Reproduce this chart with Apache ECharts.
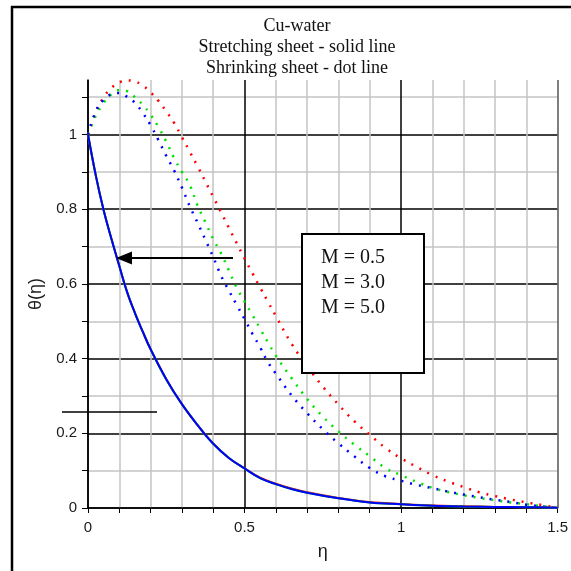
<!DOCTYPE html>
<html>
<head>
<meta charset="utf-8">
<script src="https://cdn.jsdelivr.net/npm/echarts@6/dist/echarts.min.js"></script>
<style>html,body{margin:0;padding:0;background:#fff}#c{width:571px;height:571px}</style>
</head>
<body>
<div id="c"></div>
<script>
// ---- data ----
var titleLines = ['Cu-water', 'Stretching sheet - solid line', 'Shrinking sheet - dot line'];
var legendLines = ['M = 0.5', 'M = 3.0', 'M = 5.0'];
var xLabelValues = [0, 0.5, 1, 1.5];
var yLabelValues = [0, 0.2, 0.4, 0.6, 0.8, 1.0];
var yTickValues = [0, 0.1, 0.2, 0.3, 0.4, 0.5, 0.6, 0.7, 0.8, 0.9, 1.0, 1.1];

// Stretching sheet (solid), eta -> theta
var etaSolid = [0, 0.025, 0.05, 0.075, 0.1, 0.125, 0.15, 0.175, 0.2, 0.25, 0.3, 0.35, 0.4, 0.45, 0.5, 0.55, 0.6, 0.65, 0.7, 0.8, 0.9, 1.0, 1.1, 1.2, 1.3, 1.4, 1.5];
var solidM05 = [1.0, 0.89, 0.797, 0.72, 0.648, 0.578, 0.522, 0.472, 0.425, 0.345, 0.278, 0.222, 0.173, 0.134, 0.106, 0.081, 0.065, 0.052, 0.042, 0.027, 0.016, 0.011, 0.007, 0.005, 0.003, 0.002, 0.001];
var solidM30 = [1.0, 0.89, 0.797, 0.72, 0.648, 0.578, 0.522, 0.472, 0.425, 0.344, 0.278, 0.222, 0.172, 0.134, 0.106, 0.08, 0.064, 0.051, 0.041, 0.026, 0.015, 0.01, 0.006, 0.004, 0.003, 0.002, 0.001];
var solidM50 = [1.0, 0.89, 0.797, 0.72, 0.648, 0.578, 0.522, 0.472, 0.425, 0.345, 0.278, 0.222, 0.172, 0.134, 0.106, 0.08, 0.064, 0.051, 0.041, 0.026, 0.015, 0.01, 0.006, 0.004, 0.003, 0.002, 0.001];

// Shrinking sheet (dotted), eta -> theta
var etaDot = [0, 0.025, 0.05, 0.075, 0.1, 0.125, 0.15, 0.175, 0.2, 0.225, 0.25, 0.275, 0.3, 0.325, 0.35, 0.375, 0.4, 0.425, 0.45, 0.475, 0.5, 0.525, 0.55, 0.575, 0.6, 0.65, 0.7, 0.75, 0.8, 0.85, 0.9, 0.95, 1.0, 1.05, 1.1, 1.15, 1.2, 1.25, 1.3, 1.35, 1.4, 1.45, 1.5];
var dotM05 = [1.0, 1.06, 1.10, 1.125, 1.139, 1.145, 1.142, 1.131, 1.113, 1.09, 1.062, 1.031, 0.993, 0.954, 0.915, 0.874, 0.833, 0.792, 0.75, 0.709, 0.668, 0.629, 0.59, 0.552, 0.514, 0.44, 0.38, 0.325, 0.277, 0.233, 0.196, 0.161, 0.133, 0.11, 0.088, 0.071, 0.056, 0.042, 0.032, 0.023, 0.015, 0.008, 0.0];
var dotM30 = [1.0, 1.05, 1.085, 1.108, 1.119, 1.116, 1.10, 1.08, 1.053, 1.02, 0.981, 0.937, 0.90, 0.865, 0.81, 0.765, 0.72, 0.682, 0.636, 0.59, 0.553, 0.517, 0.48, 0.443, 0.408, 0.348, 0.292, 0.245, 0.205, 0.17, 0.139, 0.107, 0.088, 0.07, 0.054, 0.043, 0.034, 0.027, 0.021, 0.015, 0.010, 0.005, 0.0];
var dotM50 = [1.0, 1.062, 1.093, 1.108, 1.111, 1.101, 1.085, 1.058, 1.025, 0.985, 0.943, 0.904, 0.858, 0.808, 0.764, 0.718, 0.672, 0.622, 0.582, 0.544, 0.506, 0.467, 0.43, 0.39, 0.36, 0.302, 0.254, 0.211, 0.173, 0.139, 0.107, 0.085, 0.073, 0.062, 0.053, 0.044, 0.036, 0.029, 0.022, 0.016, 0.009, 0.004, 0.0];

var seriesColors = ['#ff0000', '#00e000', '#0000ff'];

function pairs(xs, ys) { return xs.map(function (x, i) { return [x, ys[i]]; }); }

var G = '#c4c4c4';
var xSplitColors = ['#000', G, G, G, G, '#000', G, G, G, G, '#000', G, G, G, G, '#555'];
var ySplitColors = ['#000', G, '#000', G, '#000', G, '#000', G, '#000', G, '#000', G, 'rgba(0,0,0,0)'];

var labelFont = { color: '#1a1a1a', fontFamily: 'Liberation Sans', fontSize: 15 };

var chart = echarts.init(document.getElementById('c'), null, { renderer: 'canvas' });

var series = [];
[dotM05, dotM30, dotM50].forEach(function (d, i) {
  series.push({
    type: 'line', data: pairs(etaDot, d), showSymbol: false, smooth: 0.4,
    lineStyle: { color: seriesColors[i], width: 2.5, type: [2, 7], cap: 'butt' },
    z: 3, animation: false
  });
});
[solidM05, solidM30, solidM50].forEach(function (d, i) {
  series.push({
    type: 'line', data: pairs(etaSolid, d), showSymbol: false, smooth: 0.4,
    lineStyle: { color: seriesColors[i], width: 2 },
    z: 4, animation: false
  });
});

chart.setOption({
  animation: false,
  backgroundColor: '#fff',
  grid: { left: 88, right: 13, top: 80, bottom: 63, containLabel: false },
  xAxis: {
    type: 'value', min: 0, max: 1.5, interval: 0.1,
    name: 'η', nameLocation: 'middle', nameGap: 35,
    nameTextStyle: { color: '#1a1a1a', fontFamily: 'Liberation Sans', fontSize: 18 },
    axisLine: { show: true, lineStyle: { color: '#000', width: 1.5 } },
    axisTick: { show: true, length: 5, lineStyle: { color: '#000', width: 1 } },
    axisLabel: Object.assign({ margin: 12, customValues: xLabelValues,
      formatter: function (v) { return String(+v.toFixed(1)); } }, labelFont),
    splitLine: { show: true, lineStyle: { color: xSplitColors, width: 1.5 } }
  },
  yAxis: {
    type: 'value', min: 0, max: 1.146, interval: 0.1,
    name: 'θ(η)', nameLocation: 'middle', nameGap: 43, nameRotate: 90,
    nameTextStyle: { color: '#1a1a1a', fontFamily: 'Liberation Sans', fontSize: 18 },
    axisLine: { show: true, lineStyle: { color: '#000', width: 1.5 } },
    axisTick: { show: true, length: 6, customValues: yTickValues, lineStyle: { color: '#000', width: 1 } },
    axisLabel: Object.assign({ margin: 11, customValues: yLabelValues,
      formatter: function (v) { return String(+v.toFixed(1)); } }, labelFont),
    splitLine: { show: true, lineStyle: { color: ySplitColors, width: 1.5 } }
  },
  series: series,
  graphic: [
    // outer frame (top and left edges)
    { type: 'line', shape: { x1: 11, y1: 7, x2: 571, y2: 7 }, style: { stroke: '#000', lineWidth: 2.5 }, z: 10 },
    { type: 'line', shape: { x1: 12, y1: 6, x2: 12, y2: 571 }, style: { stroke: '#000', lineWidth: 2.5 }, z: 10 },
    // title
    { type: 'text', x: 297, y: 16, z: 10,
      style: { text: titleLines.join('\n'), align: 'center', verticalAlign: 'top',
        font: '18px "Liberation Serif"', lineHeight: 21, fill: '#111' } },
    // legend box
    { type: 'rect', shape: { x: 302, y: 234, width: 122, height: 139 },
      style: { fill: '#fff', stroke: '#000', lineWidth: 2 }, z: 20 },
    { type: 'text', x: 321, y: 245, z: 21,
      style: { text: legendLines.join('\n'), align: 'left', verticalAlign: 'top',
        font: '20px "Liberation Serif"', lineHeight: 25, fill: '#111' } },
    // arrow
    { type: 'line', shape: { x1: 233, y1: 258, x2: 128, y2: 258 }, style: { stroke: '#000', lineWidth: 2 }, z: 20 },
    { type: 'polygon', shape: { points: [[116, 258], [132, 251.5], [132, 264.5]] }, style: { fill: '#000' }, z: 20 },
    // short line
    { type: 'line', shape: { x1: 62, y1: 412, x2: 157, y2: 412 }, style: { stroke: '#000', lineWidth: 1.5 }, z: 20 }
  ]
});
</script>
</body>
</html>
